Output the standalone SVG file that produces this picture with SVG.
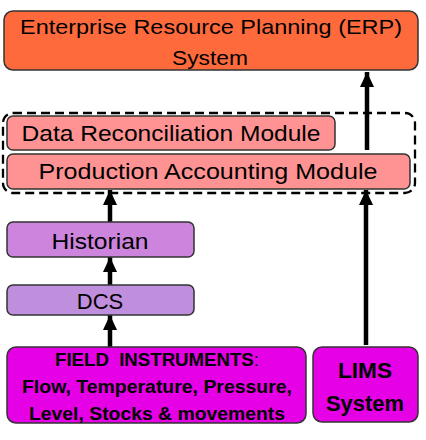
<svg xmlns="http://www.w3.org/2000/svg" width="426" height="440" viewBox="0 0 426 440">
<defs>
<style>
.box{stroke:#333;stroke-width:1.5}
.t{font-family:"Liberation Sans",Arial,sans-serif;fill:#000;text-anchor:middle}
.b{font-weight:bold}
.c{stroke:#000;stroke-width:4.5;fill:none;marker-end:url(#ah)}
</style>
<marker id="ah" markerUnits="userSpaceOnUse" markerWidth="15" markerHeight="15" viewBox="0 0 15 14" refX="15" refY="7" orient="auto">
<path d="M0,0 L15,7 L0,14 Z" fill="#000"/>
</marker>
</defs>
<rect width="426" height="440" fill="#fff"/>
<g id="connectors">
<line class="c" x1="110" y1="347" x2="110" y2="315"/>
<line class="c" x1="110" y1="285" x2="110" y2="257"/>
<line class="c" x1="110" y1="222" x2="110" y2="190"/>
<line class="c" x1="366" y1="345" x2="366" y2="190"/>
<line class="c" x1="367" y1="150" x2="367" y2="72"/>
</g>
<g id="group-boundary">
<rect x="3" y="113" width="412" height="80" rx="10" fill="none" stroke="#000" stroke-width="2.3" stroke-dasharray="9,5"/>
</g>
<g id="erp">
<rect class="box" x="4" y="11" width="414" height="59" rx="9" fill="#FF6A3D"/>
<text class="t" x="211" y="34" font-size="21" textLength="382" lengthAdjust="spacingAndGlyphs">Enterprise Resource Planning (ERP)</text>
<text class="t" x="210" y="65" font-size="21" textLength="76" lengthAdjust="spacingAndGlyphs">System</text>
</g>
<g id="data-reconciliation">
<rect class="box" x="7" y="116" width="328" height="34" rx="6" fill="#FF9393"/>
<text class="t" x="171" y="141" font-size="22" textLength="299" lengthAdjust="spacingAndGlyphs">Data Reconciliation Module</text>
</g>
<g id="production-accounting">
<rect class="box" x="7" y="154" width="403" height="35" rx="6" fill="#FF9393"/>
<text class="t" x="208" y="179" font-size="21.5" textLength="339" lengthAdjust="spacingAndGlyphs">Production Accounting Module</text>
</g>
<g id="historian">
<rect class="box" x="7" y="222" width="187" height="35" rx="6" fill="#CC84DD"/>
<text class="t" x="100" y="249" font-size="22" textLength="97" lengthAdjust="spacingAndGlyphs">Historian</text>
</g>
<g id="dcs">
<rect class="box" x="7" y="285" width="187" height="30" rx="6" fill="#BF8EDD"/>
<text class="t" x="100" y="309" font-size="22">DCS</text>
</g>
<g id="field-instruments">
<rect class="box" x="7" y="347" width="299" height="76" rx="9" fill="#E600E6"/>
<text class="t" x="157" y="366" font-size="18" textLength="204" lengthAdjust="spacingAndGlyphs" style="white-space:pre"><tspan class="b">FIELD  INSTRUMENTS</tspan>:</text>
<text class="t b" x="157" y="393" font-size="18" textLength="270" lengthAdjust="spacingAndGlyphs">Flow, Temperature, Pressure,</text>
<text class="t b" x="157" y="420" font-size="18" textLength="256" lengthAdjust="spacingAndGlyphs">Level, Stocks &amp; movements</text>
</g>
<g id="lims">
<rect class="box" x="313" y="347" width="105" height="75" rx="9" fill="#E600E6"/>
<text class="t b" x="365" y="378" font-size="22" textLength="54" lengthAdjust="spacingAndGlyphs">LIMS</text>
<text class="t b" x="365" y="411" font-size="22" textLength="78" lengthAdjust="spacingAndGlyphs">System</text>
</g>
</svg>
